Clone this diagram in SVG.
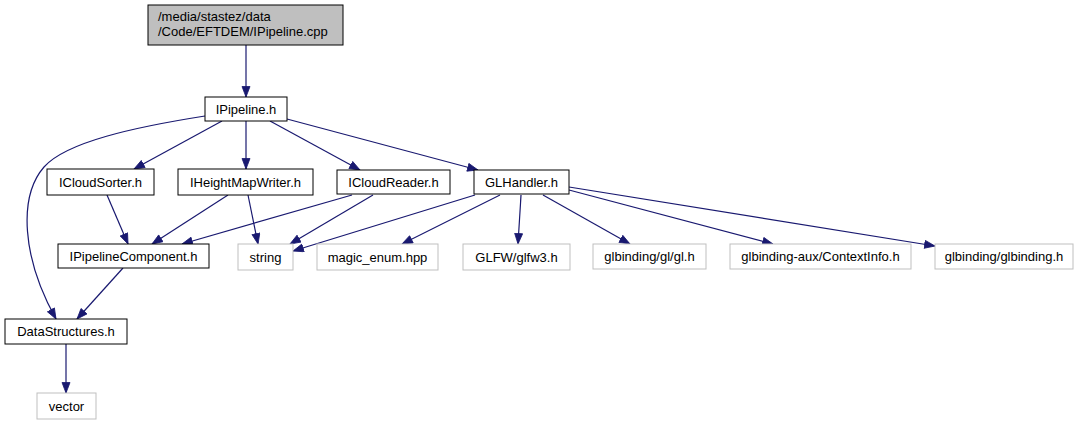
<svg xmlns="http://www.w3.org/2000/svg" width="1079" height="425" viewBox="0 0 1079 425">
<style>
.n rect{fill:#ffffff;stroke:#000000;stroke-width:1}
.g rect{fill:#ffffff;stroke:#bfbfbf;stroke-width:1}
.top rect{fill:#bfbfbf;stroke:#000000;stroke-width:1}
text{font-family:"Liberation Sans",Arial,sans-serif;font-size:13px;fill:#000000}
.c{text-anchor:middle}
#edges path{fill:none;stroke:#191970;stroke-width:1.2;marker-end:url(#arr)}
</style>
<defs>
<marker id="arr" markerUnits="userSpaceOnUse" markerWidth="12" markerHeight="10" refX="11" refY="4.5" orient="auto">
<path d="M0.5,0.5 L11,4.5 L0.5,8.5 z" fill="#191970" stroke="#191970" stroke-width="0.8"/>
</marker>
</defs>
<rect width="1079" height="425" fill="#ffffff"/>
<g id="edges">
<path d="M246,45 L246,97"/>
<path d="M222,121 L134,169"/>
<path d="M246,121 L246,169"/>
<path d="M270,121 L360,170"/>
<path d="M287,119 L478,170"/>
<path d="M205,116 C135,127 66,142 44,167 C18,197 22,258 56,319"/>
<path d="M107,195 L128,244"/>
<path d="M228,195 L152,244"/>
<path d="M248,195 L258,244"/>
<path d="M352,195 L182,244"/>
<path d="M373,195 L290,244"/>
<path d="M475,195 L293,251"/>
<path d="M500,195 L402,244"/>
<path d="M521,195 L518,244"/>
<path d="M543,195 L630,244"/>
<path d="M569,190 L773,244"/>
<path d="M569,187 L935,246"/>
<path d="M123,268 L77,319"/>
<path d="M66,344 L66,393"/>
</g>
<g id="node-ipipeline-cpp" class="top"><rect x="148" y="5" width="195" height="40"/><text x="158" y="21">/media/stastez/data</text><text x="158" y="36">/Code/EFTDEM/IPipeline.cpp</text></g>
<g id="node-ipipeline-h" class="n"><rect x="205" y="97" width="82" height="24"/><text class="c" x="246" y="113.5">IPipeline.h</text></g>
<g id="node-icloudsorter" class="n"><rect x="47" y="169" width="107" height="26"/><text class="c" x="100.5" y="186.5">ICloudSorter.h</text></g>
<g id="node-iheightmapwriter" class="n"><rect x="178" y="169" width="135" height="26"/><text class="c" x="245.5" y="186.5">IHeightMapWriter.h</text></g>
<g id="node-icloudreader" class="n"><rect x="337" y="170" width="113" height="24"/><text class="c" x="393.5" y="186.5">ICloudReader.h</text></g>
<g id="node-glhandler" class="n"><rect x="474" y="170" width="95" height="24"/><text class="c" x="521.5" y="186.5">GLHandler.h</text></g>
<g id="node-ipipelinecomponent" class="n"><rect x="58" y="244" width="151" height="24"/><text class="c" x="133.5" y="260.5">IPipelineComponent.h</text></g>
<g id="node-string" class="g"><rect x="238" y="244" width="55" height="26"/><text class="c" x="265.5" y="261.5">string</text></g>
<g id="node-magic-enum" class="g"><rect x="317" y="244" width="121" height="26"/><text class="c" x="377.5" y="261.5">magic_enum.hpp</text></g>
<g id="node-glfw" class="g"><rect x="463" y="244" width="107" height="26"/><text class="c" x="516.5" y="261.5">GLFW/glfw3.h</text></g>
<g id="node-gl" class="g"><rect x="593" y="244" width="113" height="25"/><text class="c" x="649.5" y="261">glbinding/gl/gl.h</text></g>
<g id="node-contextinfo" class="g"><rect x="730" y="244" width="181" height="25"/><text class="c" x="820.5" y="261">glbinding-aux/ContextInfo.h</text></g>
<g id="node-glbinding" class="g"><rect x="935" y="244" width="138" height="25"/><text class="c" x="1004" y="261">glbinding/glbinding.h</text></g>
<g id="node-datastructures" class="n"><rect x="5" y="319" width="122" height="25"/><text class="c" x="66" y="336">DataStructures.h</text></g>
<g id="node-vector" class="g"><rect x="37" y="393" width="59" height="26"/><text class="c" x="66.5" y="410.5">vector</text></g>
</svg>
